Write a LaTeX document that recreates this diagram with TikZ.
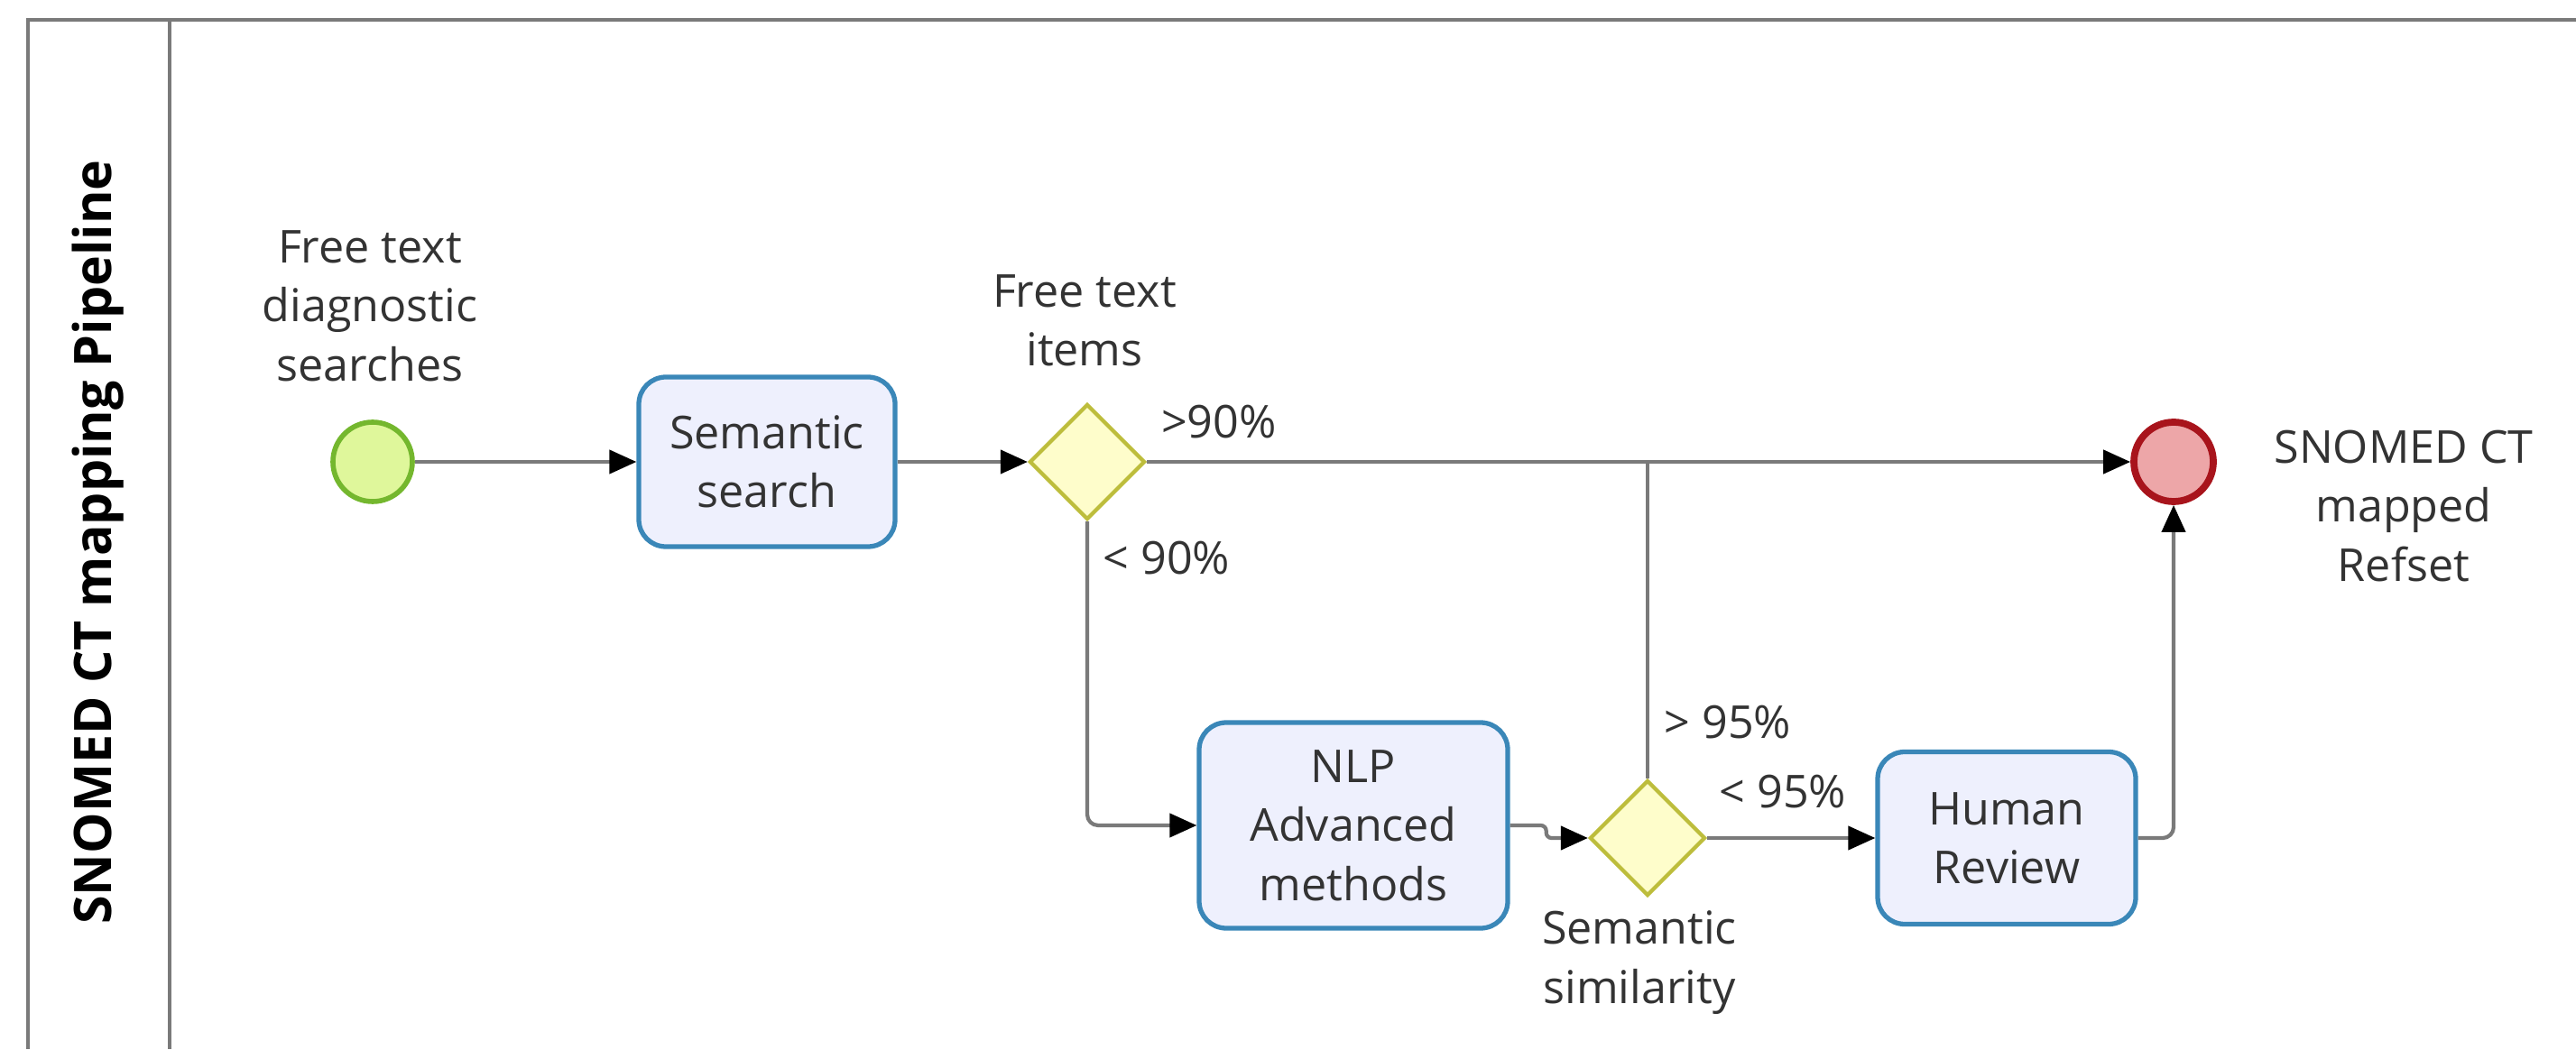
\documentclass[tikz,border=0pt]{standalone}
\usepackage{fontspec}
\setmainfont{Open Sans}
\usepackage{xcolor}
\usepackage{tikz}
\usetikzlibrary{shapes.geometric, arrows.meta, positioning, calc}

\definecolor{startfill}{HTML}{DFF79B}
\definecolor{startline}{HTML}{74B72E}
\definecolor{taskfill}{HTML}{EEF0FD}
\definecolor{taskline}{HTML}{3A87B8}
\definecolor{gatefill}{HTML}{FEFDCB}
\definecolor{gateline}{HTML}{BDBD3C}
\definecolor{endfill}{HTML}{EDA6A8}
\definecolor{endline}{HTML}{A8141C}
\definecolor{flowline}{HTML}{7A7A7A}
\definecolor{labeltext}{HTML}{333333}

\begin{document}
\begin{tikzpicture}[every node/.style={font=\fontsize{14.3}{18.6}\selectfont, text=labeltext},
    task/.style={draw=taskline, line width=1.5pt, fill=taskfill, rounded corners=0.3cm, align=center, inner sep=0pt},
    gate/.style={diamond, draw=gateline, line width=1.2pt, fill=gatefill, minimum size=1.28cm, inner sep=0pt},
    flow/.style={draw=flowline, line width=1.2pt, -{Triangle[length=0.3cm, width=0.26cm, color=black]}},
    plain/.style={draw=flowline, line width=1.2pt}]
    \useasboundingbox (0,0) rectangle (28.55,11.63);
    % Pool frame
    \draw[flowline, line width=1pt] (28.55,11.41) -- (0.31,11.41) -- (0.31,0);
    \draw[flowline, line width=1pt] (1.88,11.41) -- (1.88,0);
    \node[rotate=90, font=\fontsize{16.3}{19}\selectfont\bfseries, text=black] (pool) at (1.09,5.62) {SNOMED CT mapping Pipeline};
    % Events, tasks and gateways
    \node[circle, draw=startline, line width=1.6pt, fill=startfill, minimum size=0.88cm] (start) at (4.13,6.51) {};
    \node[task, minimum width=2.84cm, minimum height=1.88cm] (search) at (8.50,6.51) {Semantic\\search};
    \node[gate] (items) at (12.05,6.51) {};
    \node[circle, draw=endline, line width=2.2pt, fill=endfill, minimum size=0.88cm] (refset) at (24.09,6.51) {};
    \node[task, minimum width=3.42cm, minimum height=2.28cm] (nlp) at (15.00,2.48) {NLP\\Advanced\\methods};
    \node[gate] (simil) at (18.26,2.34) {};
    \node[task, minimum width=2.86cm, minimum height=1.91cm] (review) at (22.24,2.34) {Human\\Review};
    \coordinate (join) at (simil.north |- items.east);
    % Labels
    \node[align=center] (startlbl) at (4.10,8.24) {Free text\\diagnostic\\searches};
    \node[align=center] (itemslbl) at (12.02,8.08) {Free text\\items};
    \node[align=center] (refsetlbl) at (26.64,6.02) {SNOMED CT\\mapped\\Refset};
    \node[align=center] (simillbl) at (18.17,0.96) {Semantic\\similarity};
    \node (hi90) at (13.51,6.95) {>90\%};
    \node (lo90) at (12.93,5.44) {< 90\%};
    \node (hi95) at (19.15,3.62) {> 95\%};
    \node (lo95) at (19.76,2.85) {< 95\%};
    % Flows
    \draw[flow] (start) -- (search);
    \draw[flow] (search) -- (items);
    \draw[flow] (items) -- (refset);
    \draw[flow, rounded corners=0.12cm] (items.south) |- (nlp.west);
    \draw[flow, rounded corners=0.06cm] (nlp.east) -- ++(0.4,0) |- (simil.west);
    \draw[plain, rounded corners=0.12cm] (simil.north) -- (join);
    \draw[flow] (simil) -- (review);
    \draw[flow, rounded corners=0.12cm] (review.east) -| (refset.south);
  \end{tikzpicture}
\end{document}
